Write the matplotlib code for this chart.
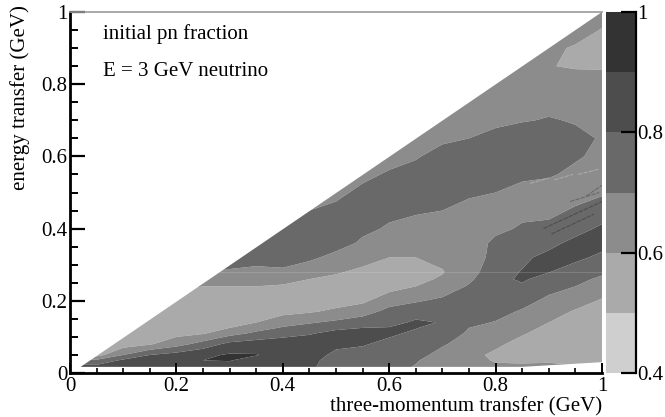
import matplotlib
matplotlib.use('Agg')
import matplotlib.pyplot as plt
from matplotlib.patches import Polygon
from matplotlib.ticker import MultipleLocator
import numpy as np

plt.rcParams['font.family'] = ['Liberation Serif', 'DejaVu Serif']

# energy transfer rows (GeV)
energy = [.015, .035, .05, .08, .11, .125, .14, .17, .20, .24, .26, .28, .32, .36, .40,
          .45, .50, .55, .60, .65, .70, .75, .80, .85, .90, .95, 1.0]
momentum = [0, .05, .1, .15, .2, .25, .3, .35, .4, .45, .5,
            .55, .6, .65, .7, .75, .8, .85, .9, .95, 1.0]

col_000 = [.85, .72, .56, .55, .55, .55, .55, .55, .56, .62, .65, .69, .74, .76, .75, .70, .66, .65, .65, .65, .65, .65, .65, .65, .65, .65, .65]
col_005 = [.85, .72, .56, .55, .55, .55, .55, .55, .56, .62, .65, .69, .74, .76, .75, .70, .66, .65, .65, .65, .65, .65, .65, .65, .65, .65, .65]
col_010 = [.86, .82, .70, .55, .55, .55, .55, .55, .56, .62, .65, .69, .74, .76, .75, .70, .66, .65, .65, .65, .65, .65, .65, .65, .65, .65, .65]
col_015 = [.87, .86, .80, .59, .55, .55, .55, .55, .56, .62, .65, .69, .74, .76, .75, .70, .66, .65, .65, .65, .65, .65, .65, .65, .65, .65, .65]
col_020 = [.88, .88, .84, .66, .57, .56, .55, .55, .56, .62, .65, .69, .74, .76, .75, .70, .66, .65, .65, .65, .65, .65, .65, .65, .65, .65, .65]
col_025 = [.87, .90, .88, .74, .59, .57, .55, .55, .56, .60, .65, .69, .74, .76, .75, .70, .66, .65, .65, .65, .65, .65, .65, .65, .65, .65, .65]
col_030 = [.86, .905, .91, .83, .66, .60, .55, .55, .56, .60, .645, .69, .74, .76, .75, .70, .66, .65, .65, .65, .65, .65, .65, .65, .65, .65, .65]
col_035 = [.84, .86, .905, .85, .72, .66, .60, .55, .55, .60, .64, .68, .73, .76, .75, .71, .67, .65, .65, .65, .65, .65, .65, .65, .65, .65, .65]
col_040 = [.82, .84, .86, .86, .76, .71, .66, .57, .55, .59, .63, .68, .75, .76, .76, .72, .68, .66, .65, .65, .65, .65, .65, .65, .65, .65, .65]
col_045 = [.81, .82, .84, .86, .79, .74, .69, .59, .55, .57, .60, .64, .72, .76, .76, .70, .67, .66, .65, .65, .65, .65, .65, .65, .65, .65, .65]
col_050 = [.77, .77, .78, .82, .83, .78, .72, .62, .56, .56, .58, .61, .67, .74, .76, .72, .68, .66, .65, .65, .65, .65, .65, .65, .65, .65, .65]
col_055 = [.75, .75, .76, .81, .83, .80, .75, .66, .58, .55, .56, .58, .635, .685, .72, .74, .72, .68, .65, .65, .65, .65, .65, .65, .65, .65, .65]
col_060 = [.74, .74, .74, .77, .82, .805, .77, .73, .66, .56, .55, .55, .60, .65, .69, .72, .75, .71, .67, .65, .65, .65, .65, .65, .65, .65, .65]
col_065 = [.69, .71, .73, .76, .78, .805, .815, .76, .69, .60, .58, .56, .60, .64, .67, .71, .76, .74, .69, .66, .65, .65, .65, .65, .65, .65, .65]
col_070 = [.62, .64, .67, .71, .74, .76, .795, .74, .72, .64, .61, .595, .62, .64, .66, .70, .74, .76, .74, .68, .65, .65, .65, .65, .65, .65, .65]
col_075 = [.62, .62, .63, .66, .69, .70, .72, .76, .75, .71, .68, .66, .65, .65, .66, .68, .71, .76, .77, .70, .66, .64, .64, .64, .64, .64, .64]
col_080 = [.61, .595, .58, .62, .65, .67, .695, .73, .77, .79, .78, .76, .73, .72, .68, .67, .70, .74, .77, .74, .67, .64, .63, .63, .63, .63, .63]
col_085 = [.62, .585, .56, .565, .61, .63, .65, .69, .73, .79, .81, .805, .78, .74, .71, .68, .67, .72, .77, .78, .69, .65, .63, .62, .62, .63, .63]
col_090 = [.62, .59, .56, .55, .56, .58, .60, .64, .68, .73, .77, .803, .83, .77, .72, .68, .66, .71, .76, .78, .71, .66, .63, .602, .62, .63, .64]
col_095 = [.62, .565, .545, .54, .54, .55, .56, .59, .64, .70, .73, .76, .82, .83, .76, .71, .67, .68, .71, .73, .69, .65, .625, .595, .59, .64, .66]
col_100 = [.60, .56, .54, .53, .53, .535, .54, .56, .59, .65, .68, .72, .78, .83, .82, .74, .69, .67, .68, .69, .66, .64, .62, .595, .55, .595, .64]

# short streaks left by the binning: x start, x end, y start, y end
streak_x0 = [.865, .91, .955, .89, .905, .93, .94, .97]
streak_x1 = [.90, .945, .995, 1.0, .985, .99, .995, 1.0]
streak_y0 = [.525, .535, .55, .40, .385, .37, .475, .49]
streak_y1 = [.54, .55, .565, .475, .44, .415, .50, .52]
streak_c = ['#aaaaaa', '#aaaaaa', '#aaaaaa', '#4d4d4d', '#4d4d4d', '#696969', '#696969', '#696969']

levels = [.4, .5, .6, .7, .8, .9, 1.0]
greys = ['#cfcfcf', '#aaaaaa', '#8c8c8c', '#696969', '#4d4d4d', '#333333']

# edge of the allowed region
edge_x = [.02, .85, 1.0, 1.0]
edge_y = [.017, .017, .03, 1.0]

fraction = np.array([col_000, col_005, col_010, col_015, col_020, col_025, col_030,
                     col_035, col_040, col_045, col_050, col_055, col_060, col_065,
                     col_070, col_075, col_080, col_085, col_090, col_095, col_100]).T

fig = plt.figure(figsize=(6.65, 4.17), dpi=100)
ax = fig.add_axes([70 / 665, 44 / 417, 532 / 665, 361 / 417])
cax = fig.add_axes([606 / 665, 44 / 417, 30 / 665, 361 / 417])

cf = ax.contourf(momentum, energy, fraction, levels=levels, colors=greys, antialiased=True)
region = Polygon(np.column_stack([edge_x, edge_y]), closed=True, transform=ax.transData,
                 facecolor='none', edgecolor='none')
ax.add_patch(region)
cf.set_clip_path(region)

for x0, x1, y0, y1, c in zip(streak_x0, streak_x1, streak_y0, streak_y1, streak_c):
    ax.plot([x0, x1], [y0, y1], color=c, lw=.8, ls=(0, (4, 1)))

# faint seam in the original binning
seam = ax.axhline(.28, color='white', alpha=.15, lw=.8)
seam.set_clip_path(region)

ax.set_xlim(0, 1)
ax.set_ylim(0, 1)
ax.xaxis.set_major_locator(MultipleLocator(.2))
ax.xaxis.set_minor_locator(MultipleLocator(.05))
ax.yaxis.set_major_locator(MultipleLocator(.2))
ax.yaxis.set_minor_locator(MultipleLocator(.05))
ax.xaxis.set_major_formatter(lambda v, p: f'{v:g}')
ax.yaxis.set_major_formatter(lambda v, p: f'{v:g}')
ax.tick_params(axis='x', which='major', direction='in', length=7, width=1.4, labelsize=15, pad=3)
ax.tick_params(axis='x', which='minor', direction='in', length=3.5, width=1.2)
ax.tick_params(axis='y', which='major', direction='in', length=11, width=1.6, labelsize=15, pad=2)
ax.tick_params(axis='y', which='minor', direction='in', length=6, width=1.4)
ax.spines['left'].set_linewidth(2)
ax.spines['bottom'].set_linewidth(2)
ax.spines['top'].set_color('#999999')
ax.spines['top'].set_linewidth(1.2)
ax.spines['right'].set_visible(False)

ax.set_xlabel('three-momentum transfer (GeV)', fontsize=15, loc='right')
ax.xaxis.set_label_coords(1.0, -.068)
ax.set_ylabel('energy transfer (GeV)', fontsize=15, loc='top')
ax.yaxis.set_label_coords(-.076, 1.019)

ax.text(.062, .938, 'initial pn fraction', fontsize=15, va='center')
ax.text(.062, .835, 'E = 3 GeV neutrino', fontsize=15, va='center')

cb = fig.colorbar(cf, cax=cax, ticks=[.4, .6, .8, 1.0], drawedges=False)
cb.ax.yaxis.set_major_formatter(lambda v, p: f'{v:g}')
cb.ax.tick_params(direction='in', length=11, width=1.6, labelsize=15, pad=1)
cb.outline.set_visible(False)
cb.ax.spines['right'].set_visible(True)
cb.ax.spines['right'].set_linewidth(1.6)

fig.savefig('out.png', dpi=100)
